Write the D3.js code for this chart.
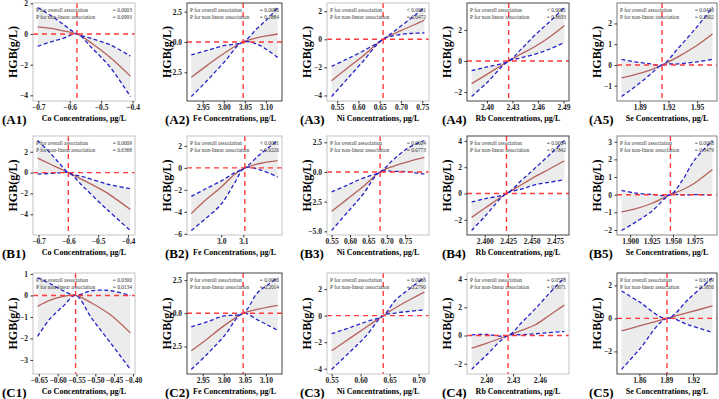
<!DOCTYPE html>
<html>
<head>
<meta charset="utf-8">
<script src="https://cdn.jsdelivr.net/npm/d3@7"></script>
<style>
  body { margin: 0; background: #fff; }
  svg text { font-family: "Liberation Serif", "Times New Roman", serif; }
</style>
</head>
<body>
<div id="chart"></div>
<script>
// ---- data (15 panels, row by row) ----
const panelIds = ["A1","A2","A3","A4","A5","B1","B2","B3","B4","B5","C1","C2","C3","C4","C5"];
const elements = ["Co","Fe","Ni","Rb","Se","Co","Fe","Ni","Rb","Se","Co","Fe","Ni","Rb","Se"];
const pOverall = ["= 0.0003","= 0.0086","< 0.0001","< 0.0001","= 0.0436",
                  "= 0.0009","< 0.0001","= 0.0004","= 0.0004","= 0.0038",
                  "= 0.0300","= 0.0086","= 0.0006","= 0.0578","= 0.6139"];
const pNonlinear = ["= 0.0993","= 0.1884","= 0.0472","= 0.8633","= 0.2602",
                    "= 0.6368","= 0.0226","= 0.0773","= 0.7842","= 0.3479",
                    "= 0.0134","= 0.2014","= 0.2790","= 0.5671","= 0.5856"];
const refX = [-0.577, 3.046, 0.658, 2.4255, 1.9133,
              -0.6, 3.107, 0.682, 2.4232, 1.947,
              -0.5524, 3.046, 0.639, 2.4244, 1.8909];

const xTicks = [[-0.7,-0.6,-0.5,-0.4],[2.95,3.00,3.05,3.10],[0.55,0.60,0.65,0.70,0.75],[2.40,2.43,2.46,2.49],[1.89,1.92,1.95],
                [-0.7,-0.6,-0.5,-0.4],[3.0,3.1],[0.55,0.60,0.65,0.70,0.75],[2.400,2.425,2.450,2.475],[1.900,1.925,1.950,1.975],
                [-0.65,-0.60,-0.55,-0.50,-0.45,-0.40],[2.95,3.00,3.05,3.10],[0.55,0.60,0.65,0.70],[2.40,2.43,2.46],[1.86,1.89,1.92]];
const xTickDigits = [1,2,2,2,2, 1,1,2,3,3, 2,2,2,2,2];
const yTicks = [[-4,-2,0,2],[-2.5,0,2.5],[-4,-2,0,2],[-2,0,2],[-1,0,1,2],
                [-4,-2,0,2],[-6,-4,-2,0,2],[-5,-2.5,0,2.5],[-2,0,2,4],[-2,-1,0,1,2,3],
                [-3,-2,-1,0,1],[-2.5,0,2.5],[-4,-2,0,2],[-2,0,2,4],[-2,0,2]];
const yTickDigits = [0,1,0,0,0, 0,0,1,0,0, 0,1,0,0,0];

const curveX = [
  [-0.702,-0.66,-0.62,-0.577,-0.53,-0.47,-0.407],
  [2.923,2.96,3.0,3.046,3.08,3.105,3.128],
  [0.537,0.57,0.61,0.658,0.7,0.73,0.755],
  [2.382,2.40,2.4255,2.44,2.457,2.475,2.491],
  [1.871,1.885,1.9,1.9133,1.93,1.95,1.966],
  [-0.703,-0.66,-0.63,-0.6,-0.55,-0.47,-0.392],
  [2.864,2.93,3.0,3.06,3.107,3.18,3.256],
  [0.55,0.59,0.635,0.682,0.72,0.76,0.8025],
  [2.386,2.40,2.4232,2.44,2.454,2.47,2.485],
  [1.890,1.905,1.925,1.947,1.96,1.975,1.996],
  [-0.653,-0.62,-0.585,-0.5524,-0.51,-0.46,-0.407],
  [2.923,2.96,3.0,3.046,3.08,3.105,3.128],
  [0.55,0.58,0.61,0.639,0.66,0.685,0.71],
  [2.3836,2.40,2.4244,2.44,2.455,2.47,2.4874],
  [1.84,1.86,1.8909,1.915,1.9418]
];
const fitY = [
  [0.46,0.36,0.2,0,-0.6,-1.55,-2.75],
  [-2.91,-1.95,-0.95,0,0.36,0.53,0.66],
  [-2.95,-2.15,-1.2,0,0.62,1.02,1.36],
  [-1.46,-0.86,0,0.45,0.95,1.6,2.29],
  [-0.62,-0.47,-0.26,0,0.39,0.95,1.49],
  [1.39,0.8,0.4,0,-0.72,-1.95,-3.55],
  [-4.15,-2.9,-1.75,-0.6,0,0.42,0.65],
  [-3.31,-2.35,-1.25,0,0.5,0.88,1.22],
  [-1.81,-1.12,0,0.7,1.3,1.9,2.49],
  [-0.97,-0.82,-0.5,0,0.25,0.65,1.42],
  [-0.51,-0.22,-0.04,0,-0.35,-0.9,-1.74],
  [-2.82,-1.95,-0.95,0,0.3,0.47,0.59],
  [-2.65,-1.75,-0.85,0,0.6,1.2,1.77],
  [-0.9,-0.56,0,0.38,0.76,1.4,2.15],
  [-0.76,-0.46,0,0.36,0.75]
];
const lowY = [
  [-0.8,-0.52,-0.28,0,-0.9,-2.2,-4.08],
  [-4.5,-3.2,-1.7,0,-0.2,-0.7,-1.27],
  [-4.08,-2.95,-1.6,0,0.35,0.43,0.45],
  [-2.29,-1.4,0,0.2,0.45,0.8,1.19],
  [-1.52,-1.05,-0.5,0,0.05,0.15,0.27],
  [-0.15,-0.08,-0.02,0,-1.35,-3.55,-5.56],
  [-5.7,-4.6,-3.3,-1.4,0,-0.2,-0.85],
  [-4.93,-3.5,-1.9,0,0.05,0.0,-0.19],
  [-2.81,-1.75,0,0.35,0.67,0.87,1.04],
  [-2.03,-1.6,-0.95,0,-0.02,0.0,-0.02],
  [-1.9,-1.08,-0.5,0,-1.05,-2.2,-3.44],
  [-4.23,-3.1,-1.75,0,-0.5,-0.9,-1.28],
  [-4.05,-2.8,-1.5,0,0.2,0.33,0.43],
  [-2.4,-1.4,0,0.05,0.12,0.2,0.28],
  [-3.09,-1.88,0,-0.4,-0.85]
];
const highY = [
  [1.73,1.2,0.62,0,-0.3,-0.72,-1.44],
  [-1.06,-0.7,-0.3,0,1.15,1.95,2.85],
  [-1.93,-1.45,-0.85,0,0.95,1.65,2.27],
  [-0.62,-0.38,0,0.75,1.7,2.6,3.45],
  [0.27,0.15,0.07,0,0.8,1.85,2.77],
  [3.08,1.85,0.9,0,-0.4,-1.1,-1.55],
  [-2.6,-1.9,-1.19,-0.45,0,1.3,2.49],
  [-1.68,-1.15,-0.52,0,1.1,2.05,2.65],
  [-0.64,-0.4,0,1.05,1.95,3.0,4.03],
  [0.25,0.1,0.02,0,0.75,1.96,3.07],
  [0.83,0.55,0.22,0,0.22,0.22,0.0],
  [-1.02,-0.65,-0.2,0,1.55,2.15,2.69],
  [-1.36,-0.92,-0.45,0,1.16,2.05,2.87],
  [0.05,0.08,0,0.95,1.9,2.95,4.1],
  [1.66,1.0,0,1.17,2.47]
];

// ---- layout ----
const colLeft = [33, 187, 327, 467, 617], colRight = [135, 282, 429, 569, 717];
const rowTop = [3, 136, 273], rowBottom = [101, 235, 374];
const labelX = [2, 165, 300, 442, 589];
const frameColor = ["#c4c4c4","#444","#c4c4c4","#444","#777",
                    "#c4c4c4","#c4c4c4","#c4c4c4","#444","#888",
                    "#c4c4c4","#444","#c4c4c4","#c4c4c4","#444"];

const svg = d3.select("#chart").append("svg")
    .attr("width", 719)
    .attr("height", 399);

svg.append("rect").attr("width", 719).attr("height", 399).attr("fill", "#fff");

// ggplot-like 5% expansion
const expand = e => { const d = (e[1] - e[0]) * 0.05; return [e[0] - d, e[1] + d]; };

panelIds.forEach((id, i) => {
    const row = Math.floor(i / 5), col = i % 5;
    const left = colLeft[col], right = colRight[col], top = rowTop[row], bottom = rowBottom[row];

    const pts = curveX[i].map((xv, k) => ({x: xv, fit: fitY[i][k], lo: lowY[i][k], hi: highY[i][k]}));

    const x = d3.scaleLinear().domain(expand(d3.extent(curveX[i]))).range([left, right]);
    const y = d3.scaleLinear().domain(expand([d3.min(lowY[i]), d3.max(highY[i])])).range([bottom, top]);

    const g = svg.append("g");

    g.append("clipPath").attr("id", "clip" + id)
        .append("rect")
        .attr("x", left).attr("y", top)
        .attr("width", right - left).attr("height", bottom - top);

    const plot = g.append("g").attr("clip-path", `url(#clip${id})`);
    const curve = d3.curveCatmullRom.alpha(0.5);

    // confidence band
    plot.append("path")
        .datum(pts)
        .attr("fill", "#ececec")
        .attr("d", d3.area().x(d => x(d.x)).y0(d => y(d.lo)).y1(d => y(d.hi)).curve(curve));

    // fitted line
    plot.append("path")
        .datum(pts)
        .attr("fill", "none")
        .attr("stroke", "#b6625c")
        .attr("stroke-width", 1.3)
        .attr("d", d3.line().x(d => x(d.x)).y(d => y(d.fit)).curve(curve));

    // CI bounds
    ["lo", "hi"].forEach(key => {
        plot.append("path")
            .datum(pts)
            .attr("fill", "none")
            .attr("stroke", "#2323c8")
            .attr("stroke-width", 1.3)
            .attr("stroke-dasharray", "4,2.5")
            .attr("d", d3.line().x(d => x(d.x)).y(d => y(d[key])).curve(curve));
    });

    // reference lines
    plot.append("line")
        .attr("x1", left).attr("x2", right)
        .attr("y1", y(0)).attr("y2", y(0))
        .attr("stroke", "#ff3a3a").attr("stroke-width", 1.4)
        .attr("stroke-dasharray", "5,4");
    plot.append("line")
        .attr("x1", x(refX[i])).attr("x2", x(refX[i]))
        .attr("y1", top).attr("y2", bottom)
        .attr("stroke", "#ff3a3a").attr("stroke-width", 1.4)
        .attr("stroke-dasharray", "5,4");

    // p-value annotation
    const ann = [["P for overall association", pOverall[i]], ["P for non-linear association", pNonlinear[i]]];
    ann.forEach((a, k) => {
        g.append("text")
            .attr("x", left + 3).attr("y", top + 8.5 + k * 7.3)
            .attr("font-size", 5.4).attr("fill", "#333")
            .text(a[0]);
        g.append("text")
            .attr("x", right - 3).attr("y", top + 8.5 + k * 7.3)
            .attr("text-anchor", "end")
            .attr("font-size", 5.4).attr("fill", "#333")
            .text(a[1]);
    });

    // frame
    g.append("rect")
        .attr("x", left).attr("y", top)
        .attr("width", right - left).attr("height", bottom - top)
        .attr("fill", "none")
        .attr("stroke", frameColor[i])
        .attr("stroke-width", 1);

    // axes
    const xAxis = g.append("g")
        .attr("transform", `translate(0,${bottom})`)
        .call(d3.axisBottom(x)
            .tickValues(xTicks[i])
            .tickFormat(d3.format(`.${xTickDigits[i]}f`))
            .tickSize(2.5).tickPadding(1.5));
    const yAxis = g.append("g")
        .attr("transform", `translate(${left},0)`)
        .call(d3.axisLeft(y)
            .tickValues(yTicks[i].filter(v => v >= y.domain()[0] && v <= y.domain()[1]))
            .tickFormat(d3.format(`.${yTickDigits[i]}f`))
            .tickSize(2.5).tickPadding(2.5));
    [xAxis, yAxis].forEach(ax => {
        ax.select(".domain").remove();
        ax.selectAll(".tick line").attr("stroke", "#333");
        ax.selectAll(".tick text")
            .attr("font-family", "Liberation Serif, serif")
            .attr("font-size", 7.5)
            .attr("font-weight", "bold")
            .attr("fill", "#222");
    });

    // titles
    g.append("text")
        .attr("transform", `translate(${left - 20},${(top + bottom) / 2}) rotate(-90)`)
        .attr("text-anchor", "middle")
        .attr("dy", "0.35em")
        .attr("font-size", 12).attr("font-weight", "bold")
        .text("HGB(g/L)");
    g.append("text")
        .attr("x", (left + right) / 2).attr("y", bottom + 20)
        .attr("text-anchor", "middle")
        .attr("font-size", 8).attr("font-weight", "bold")
        .text(`${elements[i]} Concentrations, μg/L`);
    g.append("text")
        .attr("x", labelX[col]).attr("y", bottom + 22.5)
        .attr("font-size", 13).attr("font-weight", "bold")
        .text(`(${id})`);
});
</script>
</body>
</html>
